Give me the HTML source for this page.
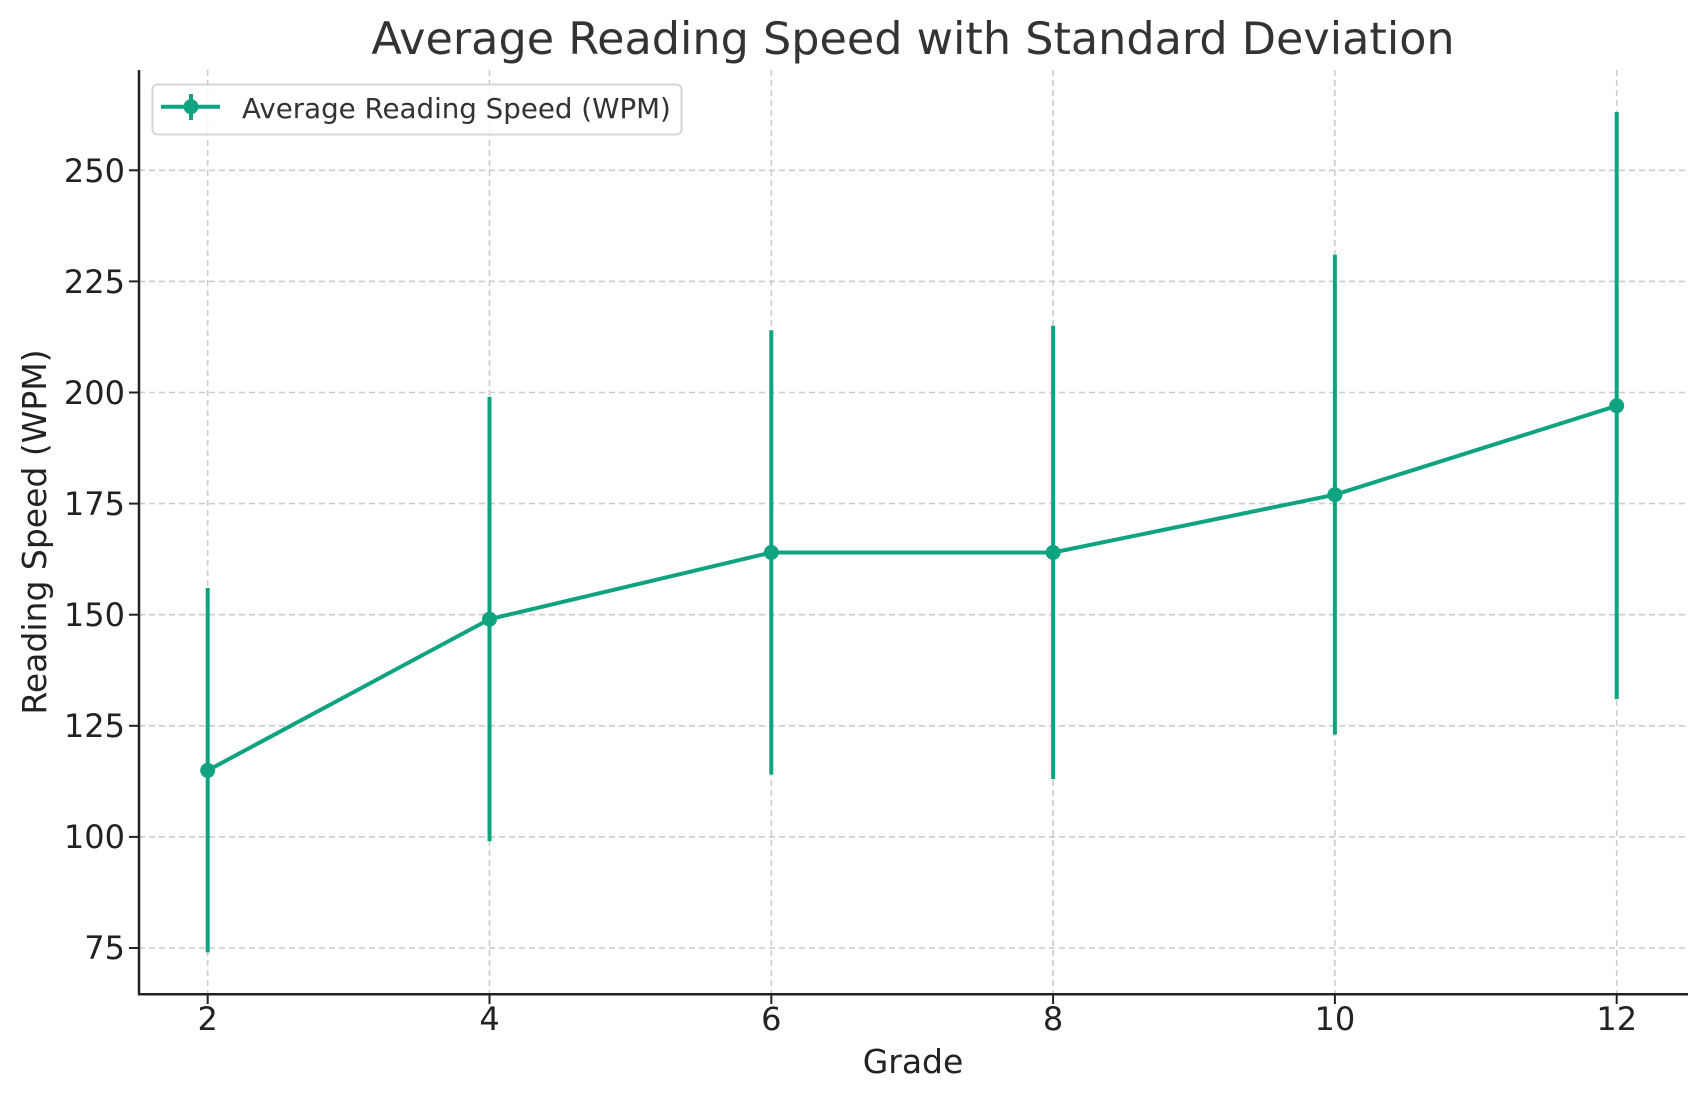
<!DOCTYPE html>
<html><head><meta charset="utf-8"><style>body{margin:0;background:#fff}svg{display:block}</style></head>
<body>
<svg width="1707" height="1101" viewBox="0 0 1707 1101" xmlns="http://www.w3.org/2000/svg" font-family="DejaVu Sans, Liberation Sans, sans-serif">
<rect width="1707" height="1101" fill="#fff"/>
<g stroke="#cccccc" stroke-width="1.6" stroke-dasharray="6,4">
<line x1="207.7" y1="70" x2="207.7" y2="994"/>
<line x1="489.5" y1="70" x2="489.5" y2="994"/>
<line x1="771.3" y1="70" x2="771.3" y2="994"/>
<line x1="1053.1" y1="70" x2="1053.1" y2="994"/>
<line x1="1334.9" y1="70" x2="1334.9" y2="994"/>
<line x1="1616.7" y1="70" x2="1616.7" y2="994"/>
<line x1="139" y1="170.3" x2="1688" y2="170.3"/>
<line x1="139" y1="281.4" x2="1688" y2="281.4"/>
<line x1="139" y1="392.5" x2="1688" y2="392.5"/>
<line x1="139" y1="503.6" x2="1688" y2="503.6"/>
<line x1="139" y1="614.7" x2="1688" y2="614.7"/>
<line x1="139" y1="725.8" x2="1688" y2="725.8"/>
<line x1="139" y1="836.9" x2="1688" y2="836.9"/>
<line x1="139" y1="948" x2="1688" y2="948"/>
</g>
<g stroke="#10a37f" stroke-width="4">
<line x1="207.7" y1="952.4" x2="207.7" y2="588"/>
<line x1="489.5" y1="841.3" x2="489.5" y2="396.9"/>
<line x1="771.3" y1="774.6" x2="771.3" y2="330.2"/>
<line x1="1053.1" y1="779" x2="1053.1" y2="325.8"/>
<line x1="1334.9" y1="734.6" x2="1334.9" y2="254.7"/>
<line x1="1616.7" y1="699.1" x2="1616.7" y2="112"/>
</g>
<polyline fill="none" stroke="#10a37f" stroke-width="4" stroke-linejoin="round" points="207.7,770.4 489.5,619.2 771.3,552.5 1053.1,552.5 1334.9,494.7 1616.7,405.8"/>
<g fill="#10a37f">
<circle cx="207.7" cy="770.4" r="7.5"/><circle cx="489.5" cy="619.2" r="7.5"/><circle cx="771.3" cy="552.5" r="7.5"/>
<circle cx="1053.1" cy="552.5" r="7.5"/><circle cx="1334.9" cy="494.7" r="7.5"/><circle cx="1616.7" cy="405.8" r="7.5"/>
</g>
<g stroke="#222" stroke-width="2.5" fill="none">
<line x1="139" y1="70" x2="139" y2="995"/>
<line x1="138" y1="994.3" x2="1688" y2="994.3"/>
</g>
<g stroke="#222" stroke-width="2">
<line x1="207.7" y1="994" x2="207.7" y2="1004"/><line x1="489.5" y1="994" x2="489.5" y2="1004"/>
<line x1="771.3" y1="994" x2="771.3" y2="1004"/><line x1="1053.1" y1="994" x2="1053.1" y2="1004"/>
<line x1="1334.9" y1="994" x2="1334.9" y2="1004"/><line x1="1616.7" y1="994" x2="1616.7" y2="1004"/>
<line x1="129" y1="170.3" x2="139" y2="170.3"/><line x1="129" y1="281.4" x2="139" y2="281.4"/>
<line x1="129" y1="392.5" x2="139" y2="392.5"/><line x1="129" y1="503.6" x2="139" y2="503.6"/>
<line x1="129" y1="614.7" x2="139" y2="614.7"/><line x1="129" y1="725.8" x2="139" y2="725.8"/>
<line x1="129" y1="836.9" x2="139" y2="836.9"/><line x1="129" y1="948" x2="139" y2="948"/>
</g>
<g font-size="32" fill="#222" text-anchor="middle">
<text x="207.7" y="1030">2</text><text x="489.5" y="1030">4</text><text x="771.3" y="1030">6</text>
<text x="1053.1" y="1030">8</text><text x="1334.9" y="1030">10</text><text x="1616.7" y="1030">12</text>
</g>
<g font-size="32" fill="#222" text-anchor="end">
<text x="125" y="182">250</text><text x="125" y="293">225</text><text x="125" y="404">200</text>
<text x="125" y="515">175</text><text x="125" y="626">150</text><text x="125" y="737">125</text>
<text x="125" y="848">100</text><text x="125" y="959">75</text>
</g>
<text x="913" y="1073" font-size="33" fill="#222" text-anchor="middle">Grade</text>
<text transform="translate(46,532) rotate(-90)" font-size="33" fill="#222" text-anchor="middle">Reading Speed (WPM)</text>
<text x="913" y="54" font-size="44.5" fill="#333" text-anchor="middle">Average Reading Speed with Standard Deviation</text>
<rect x="152.5" y="84.5" width="529" height="50" rx="5" fill="#fff" fill-opacity="0.8" stroke="#d6d6d6" stroke-width="2"/>
<line x1="161" y1="106.7" x2="220" y2="106.7" stroke="#10a37f" stroke-width="4"/>
<line x1="191" y1="94" x2="191" y2="120" stroke="#10a37f" stroke-width="4"/>
<circle cx="191" cy="106.7" r="7.5" fill="#10a37f"/>
<text x="242" y="118" font-size="27.7" fill="#333">Average Reading Speed (WPM)</text>
</svg>
</body></html>
